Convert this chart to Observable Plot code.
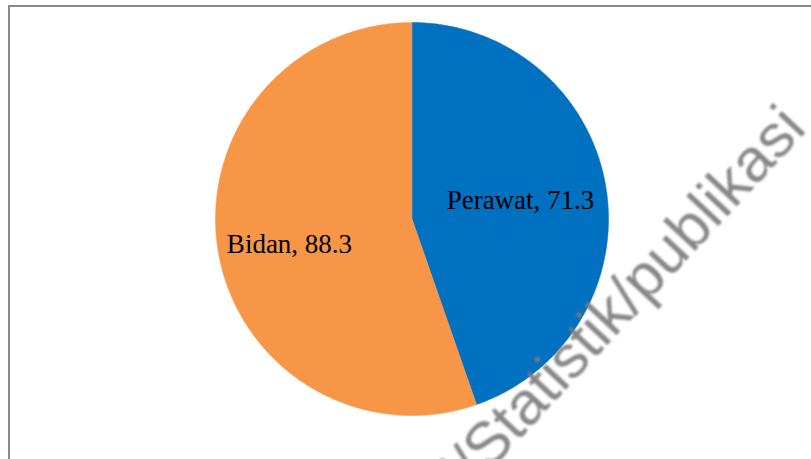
<!DOCTYPE html>
<html>
<head>
<meta charset="utf-8">
<script src="https://cdn.jsdelivr.net/npm/d3@7"></script>
<script src="https://cdn.jsdelivr.net/npm/@observablehq/plot@0.6"></script>
<style>
  html, body { margin: 0; padding: 0; background: #fff; overflow: hidden; }
  #wrap { position: relative; width: 811px; height: 459px; overflow: hidden; }
  #frame { position: absolute; left: 8px; top: 5px; width: 900px; height: 600px; border: 2px solid #8a8a8a; box-sizing: border-box; }
  #chart { position: absolute; left: 0; top: 0; }
</style>
</head>
<body>
<div id="wrap"><div id="frame"></div><div id="chart"></div></div>
<script>
// Data
const categories = ["Perawat", "Bidan"];
const values = [71.3, 88.3];
const colors = ["#0070C0", "#F79646"];

const pie = d3.pie().sort(null).value(d => d.value)(categories.map((c, i) => ({category: c, value: values[i]})));

// Build polygon points for each slice in unit coordinates (y up)
const slicePoints = [];
pie.forEach(s => {
  const cat = s.data.category;
  slicePoints.push({category: cat, x: 0, y: 0});
  const n = 240;
  for (let k = 0; k <= n; k++) {
    const a = s.startAngle + (s.endAngle - s.startAngle) * k / n;
    slicePoints.push({category: cat, x: Math.sin(a), y: Math.cos(a)});
  }
  slicePoints.push({category: cat, x: 0, y: 0});
});

const labelR = 0.56;
const labels = pie.map(s => {
  const a = (s.startAngle + s.endAngle) / 2;
  return {category: s.data.category, text: `${s.data.category}, ${s.data.value}`, x: labelR * Math.sin(a), y: labelR * Math.cos(a)};
});

const textStyle = {x: "x", y: "y", text: "text", fill: "#000", fontSize: 27, fontFamily: "'Liberation Serif', 'Times New Roman', serif", textAnchor: "middle"};

const chart = Plot.plot({
  width: 811,
  height: 459,
  marginLeft: 215,
  marginRight: 203,
  marginTop: 22,
  marginBottom: 44,
  x: {domain: [-1, 1], axis: null},
  y: {domain: [-1, 1], axis: null},
  color: {domain: categories, range: colors},
  style: {background: "transparent", overflow: "visible"},
  marks: [
    Plot.line(slicePoints, {x: "x", y: "y", z: "category", fill: "category", stroke: "category", strokeWidth: 0.5, curve: "linear"}),
    Plot.text(labels.filter(d => d.category === "Perawat"), {...textStyle}),
    Plot.text(labels.filter(d => d.category === "Bidan"), {...textStyle, dx: -14, dy: 7})
  ]
});
document.getElementById("chart").appendChild(chart);

// Watermark
const svg = d3.select(chart);
svg.append("text")
  .attr("transform", "translate(808,130) rotate(-47)")
  .attr("text-anchor", "end")
  .attr("font-family", "'Liberation Sans', Arial, sans-serif")
  .attr("font-size", 61)
  .attr("fill", "#7a7a7a")
  .attr("fill-opacity", 0.9)
  .style("filter", "blur(0.8px)")
  .text("https://www.bps.go.id/Statistik/publikasi");
</script>
</body>
</html>
